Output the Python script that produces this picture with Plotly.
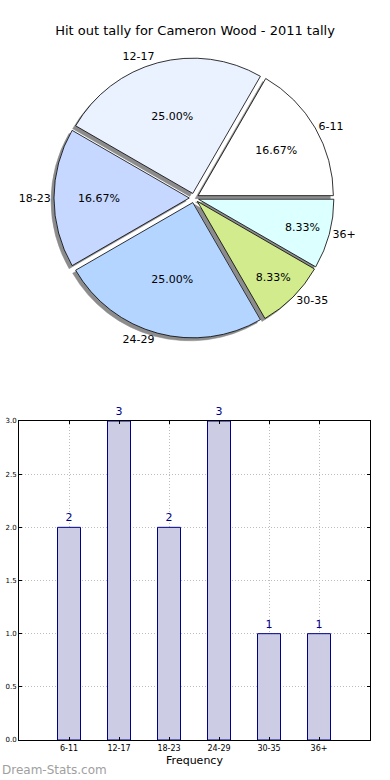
import plotly.graph_objects as go

categories = ["6-11", "12-17", "18-23", "24-29", "30-35", "36+"]
counts = [2, 3, 2, 3, 1, 1]
pie_colors = ["#ffffff", "#eaf1ff", "#c6d8ff", "#b4d5ff", "#d1eb8d", "#dcffff"]
title_text = "Hit out tally for Cameron Wood - 2011 tally"

W, H = 390, 780
ML, MR, MT, MB = 19, 20, 0, 40
PW, PH = W - ML - MR, H - MT - MB

FONT = "DejaVu Sans"
pull = [0.035] * len(counts)

cx, cy = (194 - ML) / PW, (740 - 198) / PH
hx, hy = 140 / PW, 140 / PH
dom = dict(x=[cx - hx, cx + hx], y=[cy - hy, cy + hy])
sx, sy = 3 / PW, 3 / PH
shadow_dom = dict(x=[cx - hx - sx, cx + hx - sx], y=[cy - hy - sy, cy + hy - sy])

common = dict(values=counts, labels=categories, sort=False, direction="counterclockwise",
              rotation=30, pull=pull, scalegroup="g", hoverinfo="skip", showlegend=False)

fig = go.Figure()
fig.add_trace(go.Pie(**common, domain=shadow_dom, marker=dict(colors=["#8c8c8c"] * 6, line=dict(color="#8c8c8c", width=0.5)),
                     textinfo="none", textposition="none"))
fig.add_trace(go.Pie(**common, domain=dom, marker=dict(colors=pie_colors, line=dict(color="#000000", width=0.8)),
                     texttemplate="%{percent:.2%}", textposition="inside", insidetextorientation="horizontal",
                     textfont=dict(family=FONT, size=11, color="#000000")))
fig.add_trace(go.Pie(**common, domain=dom, marker=dict(colors=["rgba(0,0,0,0)"] * 6, line=dict(width=0)),
                     texttemplate="%{label}", textposition="outside",
                     outsidetextfont=dict(family=FONT, size=11, color="#000000")))

fig.add_trace(go.Bar(x=list(range(len(categories))), y=counts, width=0.46,
                     marker=dict(color="#ccccE5", line=dict(color="#00008b", width=1)),
                     text=[str(c) for c in counts], textposition="outside", cliponaxis=False,
                     textfont=dict(family=FONT, size=11, color="#00008b"),
                     hoverinfo="skip", showlegend=False))

grid = dict(showgrid=True, gridcolor="#bdbdbd", griddash="1px,2px", gridwidth=1)
fig.update_layout(
    width=W, height=H, margin=dict(l=ML, r=MR, t=MT, b=MB, autoexpand=False),
    paper_bgcolor="white", plot_bgcolor="white",
    font=dict(family=FONT, color="#000000"),
    title=dict(text=title_text, x=0.5, xanchor="center", y=1 - 30 / H, yanchor="middle", yref="container",
               font=dict(family=FONT, size=13, color="#000000")),
    xaxis=dict(domain=[0, 1], range=[-1, 6.02], tickmode="array", tickvals=list(range(len(categories))),
               ticktext=categories, ticks="inside", ticklen=3, tickcolor="#000", showline=True, linecolor="#000",
               linewidth=1, mirror="ticks", zeroline=False, automargin=False,
               tickfont=dict(family=FONT, size=8, color="#000"),
               title=dict(text="Frequency", font=dict(family=FONT, size=11), standoff=4), **grid),
    yaxis=dict(domain=[0, (740 - 421) / PH], range=[0, 3], tickmode="array",
               tickvals=[0, 0.5, 1, 1.5, 2, 2.5, 3], ticktext=["0.0", "0.5", "1.0", "1.5", "2.0", "2.5", "3.0"],
               ticks="inside", ticklen=3, tickcolor="#000", showline=True, linecolor="#000", linewidth=1,
               mirror="ticks", zeroline=False, automargin=False,
               tickfont=dict(family=FONT, size=7, color="#000"), **grid),
    annotations=[dict(text="Dream-Stats.com", xref="paper", yref="paper", x=-ML / PW, y=-(770 - 740) / PH,
                      xanchor="left", yanchor="middle", showarrow=False,
                      font=dict(family=FONT, size=12, color="#a0a0a0"))],
)

fig.write_html("out.html", config={"displayModeBar": False},
               post_script="document.body.style.margin='0';document.body.style.overflow='hidden';"
                           "document.documentElement.style.overflow='hidden';")
